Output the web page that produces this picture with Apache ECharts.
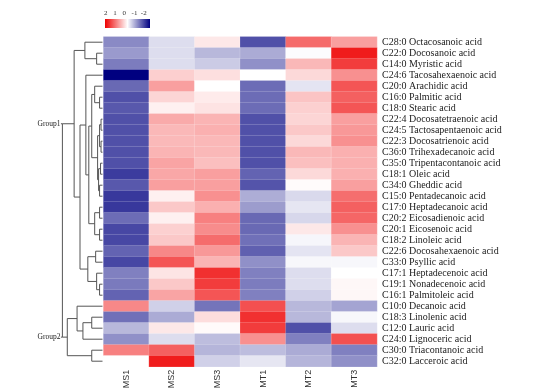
<!DOCTYPE html>
<html><head><meta charset="utf-8">
<script src="https://cdn.jsdelivr.net/npm/echarts@6/dist/echarts.min.js"></script>
<style>html,body{margin:0;padding:0;background:#fff}#c{width:547px;height:392px}</style>
</head><body><div id="c"></div>
<script>
const rowLabels = ['C28:0 Octacosanoic acid','C22:0 Docosanoic acid','C14:0 Myristic acid','C24:6 Tacosahexaenoic acid','C20:0 Arachidic acid','C16:0 Palmitic acid','C18:0 Stearic acid','C22:4 Docosatetraenoic acid','C24:5 Tactosapentaenoic acid','C22:3 Docosatrienoic acid','C36:0 Trihexadecanoic acid','C35:0 Tripentacontanoic acid','C18:1 Oleic acid','C34:0 Gheddic acid','C15:0 Pentadecanoic acid','C17:0 Heptadecanoic acid','C20:2 Eicosadienoic acid','C20:1 Eicosenoic acid','C18:2 Linoleic acid','C22:6 Docosahexaenoic acid','C33:0 Psyllic acid','C17:1 Heptadecenoic acid','C19:1 Nonadecenoic acid','C16:1 Palmitoleic acid','C10:0 Decanoic acid','C18:3 Linolenic acid','C12:0 Lauric acid','C24:0 Lignoceric acid','C30:0 Triacontanoic acid','C32:0 Lacceroic acid'];
const samples = ['MS1','MS2','MS3','MT1','MT2','MT3'];
const MS1 = [-0.92,-0.79,-1.03,-2.0,-1.18,-1.37,-1.31,-1.37,-1.37,-1.37,-1.37,-1.37,-1.53,-1.31,-1.56,-1.56,-1.15,-1.44,-1.44,-1.22,-1.44,-1.0,-1.04,-1.22,0.93,-1.12,-0.56,-0.87,1.0,0.0];
const MS2 = [-0.27,-0.27,-0.27,0.38,0.75,0.33,0.12,0.67,0.56,0.55,0.59,0.71,0.69,0.75,0.12,0.43,0.12,0.37,0.43,0.93,1.33,0.21,0.43,0.71,-0.37,-0.66,0.18,-0.27,1.25,1.78];
const MS3 = [0.18,-0.56,-0.41,0.25,0.0,0.16,0.22,0.59,0.62,0.56,0.56,0.5,0.75,0.75,0.87,0.62,1.0,0.9,1.15,0.81,0.59,1.62,1.53,1.33,-1.09,0.27,0.04,-0.52,-0.58,-0.37];
const MT1 = [-1.37,-0.66,-0.87,0.0,-1.15,-1.15,-1.15,-1.37,-1.37,-1.37,-1.37,-1.37,-1.22,-1.34,-0.64,-0.78,-1.18,-1.18,-1.12,-1.25,-0.87,-1.0,-1.03,-1.0,1.37,1.62,1.53,0.87,-0.52,-0.2];
const MT2 = [1.16,-0.02,0.56,0.3,-0.21,0.46,0.37,0.33,0.43,0.3,0.56,0.5,0.3,0.03,-0.3,-0.2,-0.31,0.18,-0.07,-0.21,-0.06,-0.27,-0.27,-0.37,-0.56,-0.56,-1.37,-1.0,-0.66,-0.58];
const MT3 = [0.75,1.78,1.53,0.87,1.33,1.25,1.33,0.75,0.81,0.87,0.62,0.62,0.62,0.75,1.14,1.25,1.2,0.87,0.59,0.43,-0.06,0.0,0.06,0.06,-0.71,-0.06,-0.27,1.37,-1.0,-0.87];
const legendTicks = ['2','1','0','-1','-2'];
const groupNames = ['Group1','Group2'];
// dendrogram: leaf = row index, node = [left, right, height]
const treeA = [0, [1, 2, 6], 18];
const c46 = [4, [5, 6, 3], 8];
const c714 = [[[7, 8, 1.5], [9, 10, 1.5], 3], [[11, 12, 2], [13, 14, 3], 4], 5];
const c1518 = [[15, 16, 3], [17, 18, 3], 8];
const treeB1 = [3, [[c46, c714, 11], c1518, 14], 17];
const treeB2 = [[19, 20, 7], [21, [22, 23, 3], 6], 15];
const treeG1 = [treeA, [treeB1, treeB2, 23], 29];
const treeG2 = [[24, [[25, 26, 11], 27, 20], 26], [28, 29, 11], 36];
const rootHeight = 41;

const cols = [MS1, MS2, MS3, MT1, MT2, MT3];
const heat = [];
cols.forEach((arr, ci) => arr.forEach((v, ri) => heat.push([ci, ri, v])));

const segs = [];
function layout(n) {
  if (typeof n === 'number') return {y: n, h: 0};
  const l = layout(n[0]), r = layout(n[1]);
  segs.push([l.y, r.y, l.h, r.h, n[2]]);
  return {y: (l.y + r.y) / 2, h: n[2]};
}
const g1 = layout(treeG1), g2 = layout(treeG2);
segs.push([g1.y, g2.y, g1.h, g2.h, rootHeight]);
const groupPts = [[rootHeight + 1.5, g1.y, groupNames[0]], [rootHeight + 1.5, g2.y, groupNames[1]]];

const TOP = 36.7, H = 330, LEFT = 103.5, RIGHT = 170;
const chart = echarts.init(document.getElementById('c'), null, {renderer: 'canvas'});
const barX = 105, barW = 45;
const graphics = [{type: 'rect', left: barX, top: 19, shape: {width: barW, height: 9},
  style: {fill: new echarts.graphic.LinearGradient(0, 0, 1, 0, [
    {offset: 0, color: '#ee0000'}, {offset: 0.5, color: '#ffffff'}, {offset: 1, color: '#000080'}])}}];
legendTicks.forEach((t, k) => graphics.push({type: 'text', left: barX - 1 + k * 9.2, top: 10,
  style: {text: t, font: '7px "Liberation Serif"', fill: '#333'}}));

chart.setOption({
  animation: false,
  grid: [
    {left: LEFT, right: RIGHT, top: TOP, height: H},
    {left: LEFT - 46, width: 45, top: TOP, height: H}
  ],
  xAxis: [
    {type: 'category', data: samples, gridIndex: 0, axisLine: {show: false}, axisTick: {show: false},
     splitLine: {show: false},
     axisLabel: {rotate: 90, fontSize: 9, fontFamily: 'Liberation Sans', color: '#333', margin: 3}},
    {type: 'value', gridIndex: 1, min: 0, max: 46, inverse: true, show: false}
  ],
  yAxis: [
    {type: 'category', data: rowLabels, gridIndex: 0, inverse: true, position: 'right',
     axisLine: {show: false}, axisTick: {show: false},
     axisLabel: {interval: 0, fontSize: 10, fontFamily: 'Liberation Serif', color: '#222', margin: 5}},
    {type: 'value', gridIndex: 1, min: -0.5, max: 29.5, inverse: true, show: false}
  ],
  visualMap: {show: false, min: -2, max: 2, dimension: 2, seriesIndex: 0,
    inRange: {color: ['#000080', '#ffffff', '#ee0000']}},
  graphic: graphics,
  series: [
    {type: 'heatmap', data: heat, xAxisIndex: 0, yAxisIndex: 0,
     itemStyle: {borderColor: 'rgba(255,255,255,0.35)', borderWidth: 0.5}},
    {type: 'custom', xAxisIndex: 1, yAxisIndex: 1, data: segs, silent: true,
     renderItem: function (params, api) {
       const yA = api.value(0), yB = api.value(1), hA = api.value(2), hB = api.value(3), hN = api.value(4);
       const pts = [api.coord([hA, yA]), api.coord([hN, yA]), api.coord([hN, yB]), api.coord([hB, yB])];
       return {type: 'polyline', shape: {points: pts}, style: {stroke: '#555', lineWidth: 1, fill: null}};
     }},
    {type: 'custom', xAxisIndex: 1, yAxisIndex: 1, data: groupPts, silent: true,
     renderItem: function (params, api) {
       const p = api.coord([api.value(0), api.value(1)]);
       const p2 = api.coord([rootHeight, api.value(1)]);
       return {type: 'group', children: [
         {type: 'line', shape: {x1: p[0], y1: p[1], x2: p2[0], y2: p2[1]}, style: {stroke: '#555', lineWidth: 1}},
         {type: 'text', x: p[0] - 0.5, y: p[1], style: {text: groupPts[params.dataIndex][2],
          font: '7.5px "Liberation Serif"', fill: '#222', align: 'right', verticalAlign: 'middle'}}]};
     }}
  ]
});
</script></body></html>
